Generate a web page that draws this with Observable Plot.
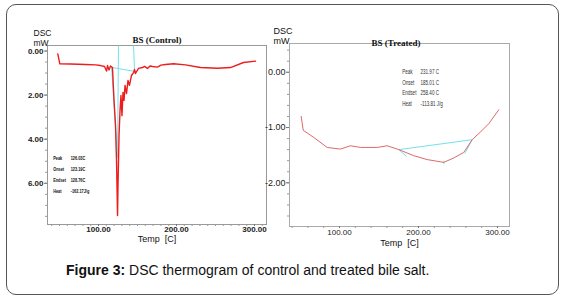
<!DOCTYPE html>
<html>
<head>
<meta charset="utf-8">
<script src="https://cdn.jsdelivr.net/npm/d3@7"></script>
<script src="https://cdn.jsdelivr.net/npm/@observablehq/plot@0.6"></script>
<style>
  html, body { margin: 0; padding: 0; background: #fff; }
  #wrap { position: relative; width: 566px; height: 299px; overflow: hidden; font-family: "Liberation Sans", Arial, sans-serif; }
  #border { position: absolute; left: 6px; top: 4px; width: 551px; height: 289px; border: 1.5px solid #555; border-radius: 10px; }
  .panel { position: absolute; top: 0; }
  #caption { position: absolute; left: 66px; top: 262px; font-size: 14px; line-height: 16px; color: #111; white-space: nowrap; }
</style>
</head>
<body>
<div id="wrap">
  <div id="border"></div>
  <div id="left" class="panel" style="left:0px"></div>
  <div id="right" class="panel" style="left:250px"></div>
  <div id="caption"><b>Figure 3:</b> DSC thermogram of control and treated bile salt.</div>
</div>
<script>
// ---- Control (BS Control) curve: temperature [C] and heat flow [mW]
const controlTemp = [47.8, 50.4, 64.1, 83.3, 96.2, 102.6, 107.7, 110.3, 111.5, 113.5, 115.4, 117.9, 119.9, 121.8, 123.1, 124.4, 125.0, 126.3, 127.6, 128.8, 130.1, 131.4, 132.7, 134.0, 135.9, 137.8, 139.7, 142.3, 144.9, 146.2, 147.4, 151.3, 156.4, 159.0, 162.8, 166.0, 169.2, 175.6, 180.0, 185.9, 196.2, 211.5, 230.8, 252.6, 269.2, 285.9, 301.3];
const controlVal  = [-0.13, -0.58, -0.59, -0.61, -0.63, -0.66, -0.70, -0.91, -0.66, -0.86, -0.68, -0.75, -2.24, -3.38, -4.97, -7.46, -6.10, -3.83, -2.70, -2.02, -2.93, -1.88, -2.24, -1.56, -1.93, -1.34, -1.56, -1.11, -0.98, -0.84, -1.02, -0.79, -0.75, -0.70, -0.79, -0.68, -0.70, -0.73, -0.64, -0.61, -0.58, -0.63, -0.75, -0.78, -0.75, -0.52, -0.46];
// construction lines: [t1, v1, t2, v2]
const controlConstr = [
  [116.7, -0.70, 124.4, -4.83],
  [125.6, 0.25, 124.4, -4.83],
  [144.9, 0.25, 146.2, -0.88],
  [117.9, -0.75, 147.4, -0.93]
];
const controlYTicks = [0, -2, -4, -6];

// ---- Treated (BS Treated) curve
const treatedTemp = [51.5, 54.1, 67.5, 84.4, 101.3, 113.9, 126.6, 147.7, 160.4, 175.1, 194.1, 211.0, 232.0, 244.7, 257.3, 268.0, 278.5, 289.0, 301.6];
const treatedVal  = [-0.80, -1.05, -1.18, -1.36, -1.39, -1.33, -1.36, -1.36, -1.33, -1.40, -1.51, -1.58, -1.63, -1.55, -1.45, -1.22, -1.08, -0.93, -0.68];
const treatedConstr = [
  [175.1, -1.40, 268.0, -1.22],
  [175.1, -1.40, 184.8, -1.52],
  [268.0, -1.22, 258.6, -1.47],
  [232.0, -1.60, 232.0, -1.66]
];
const treatedYTicks = [0, -1, -2];

const xTicks = [100, 200, 300];
const annLabels = ["Peak", "Onset", "Endset", "Heat"];
const controlAnnValues = ["126.03C", "123.19C", "128.76C", "-162.17J/g"];
const treatedAnnValues = ["231.97 C", "185.01 C", "258.40 C", "-113.81 J/g"];

const font = "'Liberation Sans', Arial, sans-serif";
const controlData = controlTemp.map((t, i) => ({t, v: controlVal[i]}));
const treatedData = treatedTemp.map((t, i) => ({t, v: treatedVal[i]}));
const fmt2 = d => d.toFixed(2);

// ---------- Left panel ----------
const left = Plot.plot({
  width: 280, height: 250,
  marginLeft: 47, marginRight: 14, marginTop: 45, marginBottom: 26,
  x: {domain: [34.6, 315.4]},
  y: {domain: [-7.87, 0.25]},
  style: {fontFamily: font, fontSize: "8px", background: "transparent", color: "#222"},
  marks: [
    Plot.frame({stroke: "#999"}),
    Plot.axisX({ticks: d3.range(40, 316, 10), tickSize: 2, tickFormat: () => "", label: null, stroke: "#999"}),
    Plot.axisX({ticks: xTicks, tickSize: 2, tickPadding: 0, tickFormat: fmt2, label: null, fontWeight: "bold", fontSize: 8, stroke: "#777"}),
    Plot.axisY({ticks: d3.range(-7.5, 0.3, 0.5), tickSize: 2, tickFormat: () => "", label: null, stroke: "#999"}),
    Plot.axisY({ticks: controlYTicks, tickSize: 3, tickPadding: 1, tickFormat: d => Math.abs(d).toFixed(2), label: null, fontWeight: "bold", fontSize: 8, stroke: "#777"}),
    Plot.link(controlConstr, {x1: d => d[0], y1: d => d[1], x2: d => d[2], y2: d => d[3], stroke: "#6fe3ec", strokeWidth: 1}),
    Plot.line(controlData, {x: "t", y: "v", stroke: "#ee1c1c", strokeWidth: 1.4}),
    Plot.text(annLabels, {x: () => 41.9, y: (d, i) => -4.86 - 0.5 * i, text: d => d, textAnchor: "start", fontSize: 5.5, fontWeight: "bold", fill: "#111"}),
    Plot.text(controlAnnValues, {x: () => 64.3, y: (d, i) => -4.86 - 0.5 * i, text: d => d, textAnchor: "start", fontSize: 5.5, fontWeight: "bold", fill: "#111"}),
    Plot.text(["BS (Control)"], {frameAnchor: "top", dy: -8.5, text: d => d, fontFamily: "'Liberation Serif', 'DejaVu Serif', serif", fontWeight: "bold", fontSize: 9, fill: "#111"}),
    Plot.text(["DSC"], {frameAnchor: "top-left", dx: -14, dy: -15.7, text: d => d, textAnchor: "start", fontSize: 8.5, fill: "#111"}),
    Plot.text(["mW"], {frameAnchor: "top-left", dx: -14, dy: -5.7, text: d => d, textAnchor: "start", fontSize: 8.5, fill: "#111"}),
    Plot.text(["Temp  [C]"], {frameAnchor: "bottom", dy: 17, text: d => d, fontSize: 9, fill: "#111"})
  ]
});
document.getElementById("left").appendChild(left);

// ---------- Right panel ----------
const right = Plot.plot({
  width: 280, height: 255,
  marginLeft: 39, marginRight: 21, marginTop: 43, marginBottom: 29,
  x: {domain: [36.7, 315.2]},
  y: {domain: [-2.79, 0.52]},
  style: {fontFamily: font, fontSize: "8px", background: "transparent", color: "#222"},
  marks: [
    Plot.frame({stroke: "#aaa"}),
    Plot.axisX({ticks: d3.range(40, 316, 20), tickSize: 2, tickFormat: () => "", label: null, stroke: "#999"}),
    Plot.axisX({ticks: xTicks, tickSize: 2, tickPadding: 1, tickFormat: fmt2, label: null, fontSize: 8, stroke: "#777"}),
    Plot.axisY({ticks: d3.range(-2.6, 0.5, 0.2), tickSize: 2, tickFormat: () => "", label: null, stroke: "#999"}),
    Plot.axisY({ticks: treatedYTicks, tickSize: 3, tickPadding: 1, tickFormat: fmt2, label: null, fontSize: 9, stroke: "#777"}),
    Plot.link(treatedConstr, {x1: d => d[0], y1: d => d[1], x2: d => d[2], y2: d => d[3], stroke: "#6fe3ec", strokeWidth: 1}),
    Plot.line(treatedData, {x: "t", y: "v", stroke: "#dd6a6a", strokeWidth: 1}),
    Plot.text(annLabels, {x: () => 179.4, y: (d, i) => -0.19 * i, text: d => d, textAnchor: "start", fontSize: 6.5, fill: "#333"}),
    Plot.text(treatedAnnValues, {x: () => 202.5, y: (d, i) => -0.19 * i, text: d => d, textAnchor: "start", fontSize: 6.5, fill: "#333"}),
    Plot.text(["BS (Treated)"], {frameAnchor: "top", dx: -3.5, dy: -4, text: d => d, fontFamily: "'Liberation Serif', 'DejaVu Serif', serif", fontWeight: "bold", fontSize: 9, fill: "#111"}),
    Plot.text(["DSC"], {frameAnchor: "top-left", dx: -16, dy: -16.3, text: d => d, textAnchor: "start", fontSize: 9, fill: "#111"}),
    Plot.text(["mW"], {frameAnchor: "top-left", dx: -16, dy: -6.3, text: d => d, textAnchor: "start", fontSize: 9, fill: "#111"}),
    Plot.text(["Temp  [C]"], {frameAnchor: "bottom", dy: 19, text: d => d, fontSize: 9, fill: "#111"})
  ]
});
document.getElementById("right").appendChild(right);

// Condense the small annotation texts (the original uses a narrow face)
const annSet = new Set([...annLabels, ...controlAnnValues, ...treatedAnnValues]);
for (const svg of [left, right]) {
  d3.select(svg).selectAll("text").each(function () {
    if (annSet.has(this.textContent)) {
      const w = this.getComputedTextLength();
      if (w > 0) {
        this.setAttribute("textLength", (w * 0.7).toFixed(1));
        this.setAttribute("lengthAdjust", "spacingAndGlyphs");
      }
    }
  });
}
</script>
</body>
</html>
